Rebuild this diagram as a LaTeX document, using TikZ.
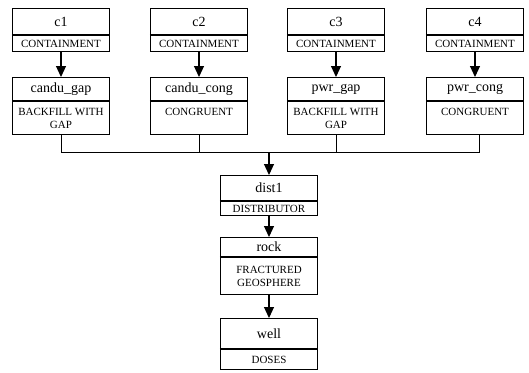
\documentclass[tikz,border=0pt]{standalone}
\usepackage{fontspec}
\setmainfont{Liberation Serif}
\usetikzlibrary{arrows.meta}
\begin{document}
\begin{tikzpicture}[x=1pt,y=-1pt,
  box/.style={draw,line width=1.1pt,minimum width=97pt,inner sep=1pt,align=center,anchor=north},
  head/.style={box,font=\fontsize{14}{16}\selectfont},
  body/.style={box,font=\fontsize{11}{13}\selectfont},
  arr/.style={line width=1.1pt,-{Triangle[width=10pt,length=11pt]}},
  lnk/.style={line width=1pt},
  divider/.style={line width=1.8pt}]
\useasboundingbox (0,0) rectangle (529,372);
% top row
\node[head,minimum height=26pt] (c1) at (61,8) {c1};
\node[body,minimum height=16pt] (c1b) at (c1.south) {CONTAINMENT};
\node[head,minimum height=26pt] (c2) at (199,8) {c2};
\node[body,minimum height=16pt] (c2b) at (c2.south) {CONTAINMENT};
\node[head,minimum height=26pt] (c3) at (336,8) {c3};
\node[body,minimum height=16pt] (c3b) at (c3.south) {CONTAINMENT};
\node[head,minimum height=26pt] (c4) at (475,8) {c4};
\node[body,minimum height=16pt] (c4b) at (c4.south) {CONTAINMENT};
% middle row
\node[head,minimum height=23pt] (cg) at (61,77) {candu\_gap};
\node[body,minimum height=33pt] (cgb) at (cg.south) {BACKFILL WITH\\GAP};
\node[head,minimum height=23pt] (cc) at (199,77) {candu\_cong};
\node[body,minimum height=33pt] (ccb) at (cc.south) {CONGRUENT\\~};
\node[head,minimum height=23pt] (pg) at (336,77) {pwr\_gap};
\node[body,minimum height=33pt] (pgb) at (pg.south) {BACKFILL WITH\\GAP};
\node[head,minimum height=23pt] (pc) at (475,77) {pwr\_cong};
\node[body,minimum height=33pt] (pcb) at (pc.south) {CONGRUENT\\~};
% center column
\node[head,minimum height=25pt] (d1) at (269,175) {dist1};
\node[body,minimum height=14pt] (d1b) at (d1.south) {DISTRIBUTOR};
\node[head,minimum height=19pt] (rk) at (269,237) {rock};
\node[body,minimum height=37pt] (rkb) at (rk.south) {FRACTURED\\GEOSPHERE};
\node[head,minimum height=30pt] (wl) at (269,318) {well};
\node[body,minimum height=20pt] (wlb) at (wl.south) {DOSES};
% dividers
\foreach \n in {c1,c2,c3,c4,cg,cc,pg,pc,d1,rk,wl}
  \draw[divider] (\n.south west) -- (\n.south east);
% arrows
\draw[arr] (c1b.south) -- (cg.north);
\draw[arr] (c2b.south) -- (cc.north);
\draw[arr] (c3b.south) -- (pg.north);
\draw[arr] (c4b.south) -- (pc.north);
\coordinate (bus) at (269,152);
\coordinate (pcout) at ([xshift=4pt]pcb.south);
\draw[lnk] (cgb.south) -- (cgb.south |- bus) -- (pcout |- bus) -- (pcout);
\draw[lnk] (ccb.south) -- (ccb.south |- bus);
\draw[lnk] (pgb.south) -- (pgb.south |- bus);
\draw[arr] (bus) -- (d1.north);
\draw[arr] (d1b.south) -- (rk.north);
\draw[arr] (rkb.south) -- (wl.north);
\end{tikzpicture}
\end{document}
